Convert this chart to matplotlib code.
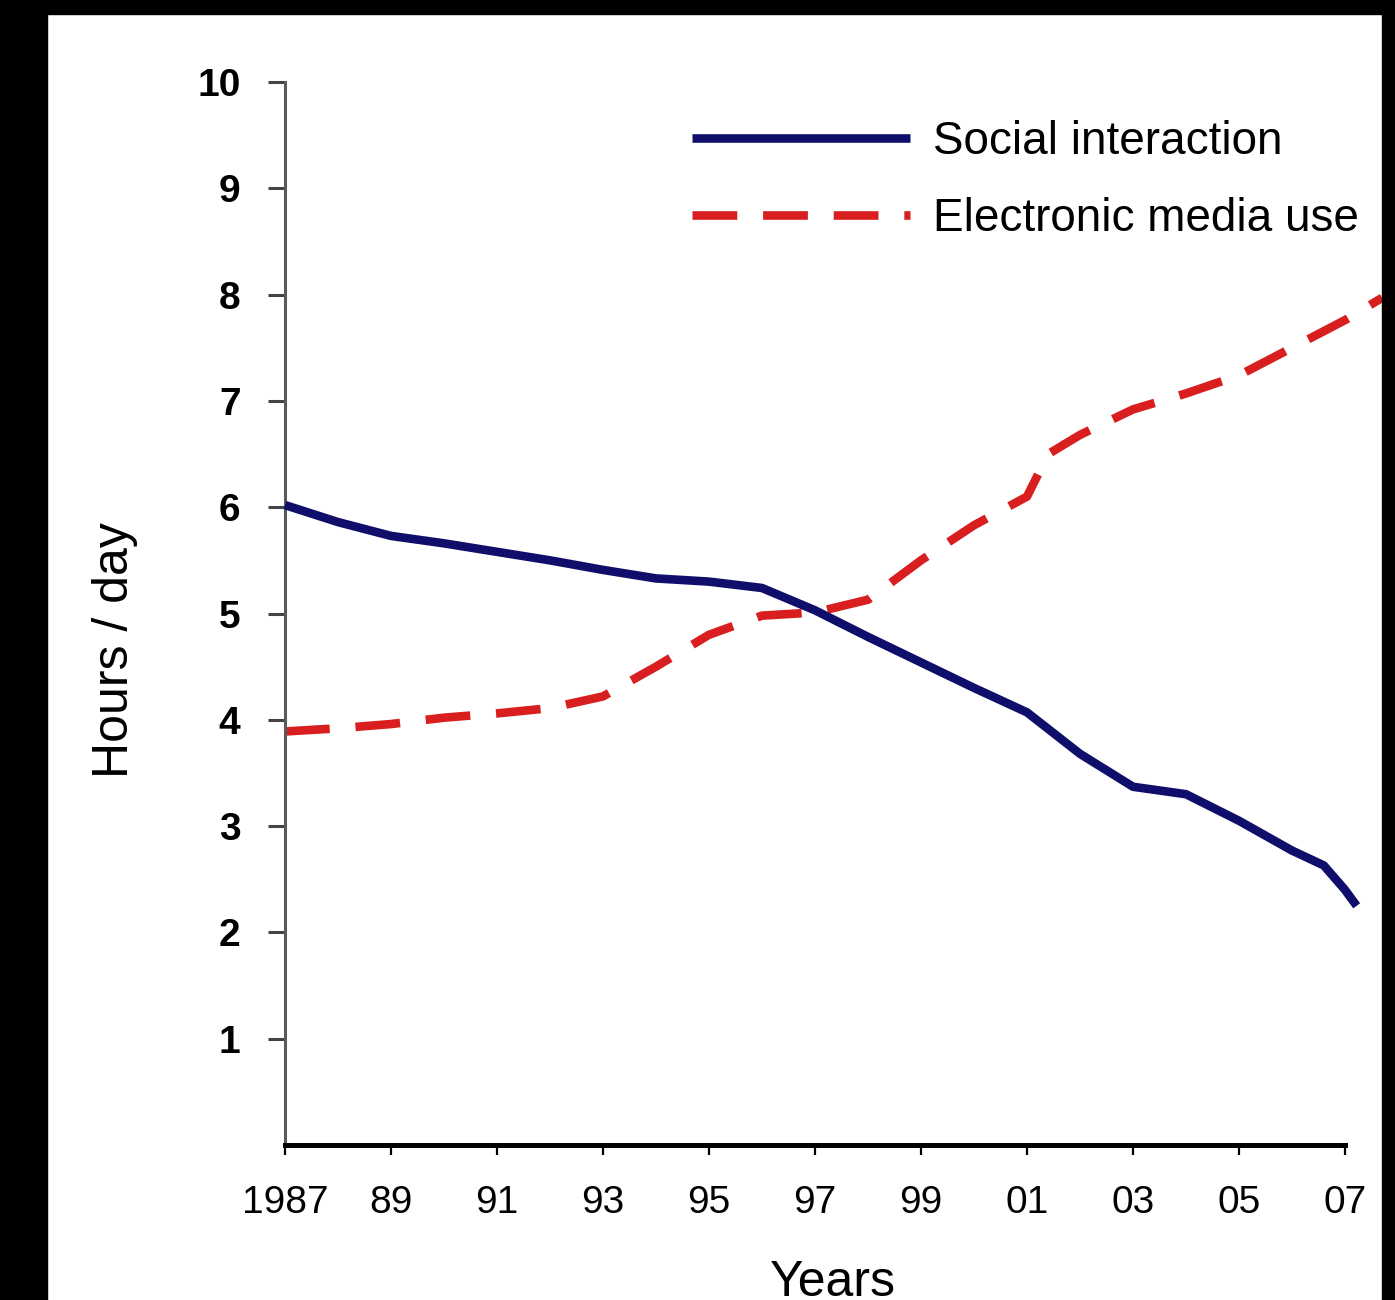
import matplotlib
matplotlib.use("Agg")
import matplotlib.pyplot as plt
from matplotlib.patches import Rectangle

plt.rcParams['font.family'] = ['Liberation Sans', 'DejaVu Sans']

# Data
social_years = [1987, 1988, 1989, 1990, 1991, 1992, 1993, 1994, 1995, 1996,
                1997, 1998, 1999, 2000, 2001, 2002, 2003, 2004, 2005, 2006,
                2006.6, 2007, 2007.22]
social_hours = [6.02, 5.86, 5.73, 5.66, 5.58, 5.50, 5.41, 5.33, 5.30, 5.24,
                5.03, 4.78, 4.54, 4.30, 4.07, 3.68, 3.37, 3.30, 3.05, 2.77,
                2.63, 2.40, 2.25]

media_years = [1987, 1988, 1989, 1990, 1991, 1992, 1993, 1994, 1995, 1996,
               1997, 1998, 1999, 2000, 2001, 2001.4, 2002, 2003, 2004, 2005,
               2006, 2007, 2007.7]
media_hours = [3.89, 3.92, 3.96, 4.02, 4.06, 4.11, 4.22, 4.50, 4.80, 4.98,
               5.01, 5.13, 5.50, 5.83, 6.10, 6.50, 6.68, 6.92, 7.07, 7.24,
               7.50, 7.76, 7.97]

xtick_values = [1987, 1989, 1991, 1993, 1995, 1997, 1999, 2001, 2003, 2005, 2007]
xtick_labels = ["1987", "89", "91", "93", "95", "97", "99", "01", "03", "05", "07"]
ytick_values = [1, 2, 3, 4, 5, 6, 7, 8, 9, 10]

series_names = ["Social interaction", "Electronic media use"]

W, H = 1395, 1300
fig = plt.figure(figsize=(W / 100, H / 100), dpi=100, facecolor="white")
ax = fig.add_axes([285 / W, 1 - 1145 / H, (1345 - 285) / W, (1145 - 82) / H])

ax.plot(social_years, social_hours, color="#0f0f6b", lw=6.2,
        solid_capstyle="butt", solid_joinstyle="round", clip_on=False,
        label=series_names[0], zorder=3)
ax.plot(media_years, media_hours, color="#d81e1e", lw=6.2,
        dashes=(5.2, 3.0), clip_on=False, label=series_names[1], zorder=2)

ax.set_xlim(1987, 2007)
ax.set_ylim(0, 10)

ax.set_xticks(xtick_values)
ax.set_xticklabels(xtick_labels)
ax.set_yticks(ytick_values)
ax.set_yticklabels([str(v) for v in ytick_values])

for s in ["top", "right"]:
    ax.spines[s].set_visible(False)
ax.spines["left"].set_color("#5a5a5a")
ax.spines["left"].set_linewidth(2.2)
ax.spines["bottom"].set_color("black")
ax.spines["bottom"].set_linewidth(3.6)

ax.tick_params(axis="x", direction="out", length=7, width=1.6, color="black",
               pad=22, labelsize=28)
ax.tick_params(axis="y", direction="out", length=12, width=2.2, color="#444444",
               pad=20, labelsize=28)
for lbl in ax.get_yticklabels():
    lbl.set_fontweight("bold")

fig.text(115 / W, 1 - 650 / H, "Hours / day", rotation=90, ha="center",
         va="center", fontsize=36)
fig.text(833 / W, 1 - 1296 / H, "Years", ha="center", va="baseline",
         fontsize=36)

leg = ax.legend(loc="upper left", bbox_to_anchor=(692 / W, 1 - 120 / H),
                bbox_transform=fig.transFigure, frameon=False, fontsize=33,
                handlelength=4.75, handletextpad=0.5, labelspacing=0.72,
                borderpad=0, borderaxespad=0)

# black frame of the original picture
fig.add_artist(Rectangle((0, 0), 47 / W, 1, transform=fig.transFigure,
                         color="black", zorder=10))
fig.add_artist(Rectangle((0, 1 - 14 / H), 1, 14 / H, transform=fig.transFigure,
                         color="black", zorder=10))
fig.add_artist(Rectangle((1382 / W, 0), 13 / W, 1, transform=fig.transFigure,
                         color="black", zorder=10))

fig.savefig("out.png", dpi=100, facecolor="white")
